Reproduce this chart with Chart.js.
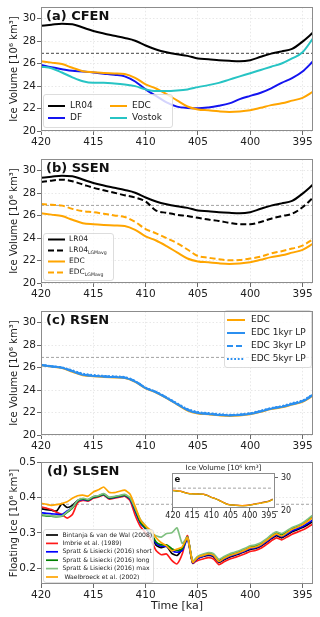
<!DOCTYPE html>
<html><head><meta charset="utf-8">
<script src="https://cdn.jsdelivr.net/npm/chart.js@4/dist/chart.umd.min.js"></script>
<style>
html,body{margin:0;padding:0;background:#fff;width:320px;height:617px;overflow:hidden;position:relative;}
canvas{position:absolute;}
</style></head><body>
<canvas id="ca" width="320" height="150" style="left:0;top:0;width:320px;height:150px"></canvas>
<canvas id="cb" width="320" height="150" style="left:0;top:152px;width:320px;height:150px"></canvas>
<canvas id="cc" width="320" height="150" style="left:0;top:304px;width:320px;height:150px"></canvas>
<canvas id="cd" width="320" height="162" style="left:0;top:455px;width:320px;height:162px"></canvas>
<canvas id="ce" width="170" height="80" style="left:150px;top:455px;width:170px;height:80px"></canvas>
<script>
const FONT = "'DejaVu Sans', sans-serif";

// ---------- data ----------
const timeKa = [420,419,418,417,416,415,414,413,412,411,410,409,408,407,406,405,404,403,402,401,400,399,398,397,396,395,394];
const xTicks = [420,415,410,405,400,395];
const iceTicks = [20,22,24,26,28,30];
const floatTicks = [0.2,0.3,0.4,0.5];
const insetYTicks = [20,30];
const refIce = 26.9;
const refFloat = 0.381;

const lr04   = [29.35,29.45,29.54,29.50,29.20,28.90,28.67,28.47,28.27,28.03,27.60,27.25,27.00,26.82,26.68,26.45,26.39,26.30,26.24,26.20,26.30,26.60,26.88,27.08,27.30,27.95,28.75];
const df     = [25.87,25.66,25.50,25.35,25.30,25.20,25.10,25.00,24.86,24.40,23.70,23.12,22.54,22.17,22.05,22.02,22.10,22.25,22.46,22.83,23.12,23.40,23.79,24.28,24.70,25.29,26.20];
const edc    = [26.20,26.08,25.95,25.62,25.32,25.22,25.16,25.12,25.06,24.72,24.15,23.78,23.28,22.72,22.18,21.92,21.84,21.75,21.70,21.74,21.84,22.06,22.30,22.46,22.70,22.95,23.50];
const vostok = [25.72,25.58,25.20,24.77,24.42,24.28,24.28,24.22,24.13,23.99,23.70,23.55,23.55,23.60,23.70,23.90,24.08,24.28,24.57,24.86,25.14,25.43,25.72,26.00,26.45,27.00,28.24];

const lr04LGM = [28.99,29.10,29.19,29.05,28.76,28.47,28.24,28.03,27.80,27.60,27.25,26.44,26.24,26.07,25.95,25.80,25.64,25.52,25.35,25.23,25.23,25.43,25.72,25.95,26.16,26.73,27.60];
const edcLGM  = [27.02,26.95,26.88,26.59,26.39,26.30,26.16,26.01,25.87,25.43,24.80,24.42,23.99,23.55,22.98,22.40,22.25,22.11,22.02,22.05,22.17,22.34,22.63,22.83,23.06,23.32,23.90];

const edcLP1 = [26.22,26.10,25.97,25.66,25.36,25.25,25.19,25.15,25.09,24.75,24.17,23.80,23.30,22.75,22.22,21.96,21.87,21.78,21.73,21.77,21.88,22.09,22.33,22.50,22.74,22.99,23.55];
const edcLP3 = [26.23,26.11,25.99,25.70,25.40,25.28,25.22,25.17,25.12,24.78,24.19,23.82,23.32,22.78,22.26,21.99,21.90,21.81,21.76,21.80,21.91,22.12,22.36,22.53,22.78,23.03,23.58];
const edcLP5 = [26.24,26.12,26.01,25.74,25.46,25.33,25.26,25.21,25.15,24.80,24.21,23.84,23.35,22.82,22.32,22.04,21.95,21.86,21.80,21.84,21.95,22.16,22.40,22.57,22.83,23.08,23.62];

const timeD = [420,419.5,419,418.5,418,417.5,417,416.5,416,415.5,415,414.5,414,413.5,413,412.5,412,411.5,411,410.5,410,409.5,409,408.5,408,407.5,407,406.5,406,405.5,405,404.5,404,403.5,403,402.5,402,401.5,401,400.5,400,399.5,399,398.5,398,397.5,397,396.5,396,395.5,395,394.5,394];
const bintanja = [0.368,0.366,0.364,0.362,0.383,0.372,0.378,0.392,0.396,0.393,
 0.402,0.405,0.410,0.400,0.402,0.404,0.407,0.398,0.365,0.330,
 0.312,0.298,0.265,0.258,0.262,0.242,0.236,0.255,0.288,0.214,
 0.228,0.233,0.236,0.232,0.216,0.224,0.231,0.236,0.241,0.247,
 0.253,0.256,0.262,0.272,0.283,0.292,0.286,0.294,0.303,0.309,
 0.315,0.323,0.332];
const imbrie = [0.374,0.370,0.366,0.358,0.352,0.342,0.352,0.385,0.392,0.390,
 0.398,0.402,0.407,0.396,0.398,0.401,0.404,0.392,0.350,0.318,
 0.300,0.280,0.250,0.238,0.240,0.222,0.212,0.240,0.292,0.215,
 0.222,0.226,0.230,0.226,0.210,0.218,0.225,0.230,0.235,0.241,
 0.247,0.250,0.256,0.266,0.277,0.286,0.280,0.288,0.296,0.302,
 0.308,0.316,0.325];
const sprattShort = [0.357,0.355,0.354,0.353,0.352,0.362,0.372,0.390,0.395,0.392,
 0.400,0.404,0.408,0.398,0.400,0.403,0.406,0.396,0.362,0.328,
 0.312,0.296,0.270,0.262,0.262,0.250,0.245,0.250,0.282,0.216,
 0.228,0.234,0.238,0.234,0.218,0.226,0.233,0.238,0.243,0.249,
 0.255,0.258,0.264,0.274,0.285,0.295,0.289,0.297,0.306,0.312,
 0.318,0.327,0.337];
const sprattLong = [0.350,0.348,0.347,0.346,0.347,0.358,0.370,0.390,0.396,0.393,
 0.401,0.404,0.409,0.399,0.401,0.404,0.407,0.398,0.366,0.330,
 0.314,0.300,0.274,0.266,0.266,0.255,0.250,0.255,0.288,0.218,
 0.232,0.237,0.241,0.238,0.222,0.230,0.237,0.242,0.247,0.253,
 0.260,0.263,0.269,0.279,0.291,0.300,0.295,0.303,0.312,0.318,
 0.325,0.336,0.348];
const sprattMax = [0.352,0.350,0.348,0.347,0.348,0.360,0.372,0.392,0.398,0.395,
 0.403,0.406,0.411,0.401,0.403,0.406,0.409,0.400,0.370,0.338,
 0.320,0.300,0.292,0.288,0.298,0.300,0.314,0.270,0.288,0.220,
 0.234,0.240,0.244,0.241,0.225,0.233,0.240,0.245,0.250,0.256,
 0.263,0.266,0.272,0.282,0.294,0.303,0.298,0.306,0.315,0.321,
 0.328,0.339,0.351];
const waelbroeck = [0.384,0.381,0.378,0.380,0.383,0.388,0.398,0.405,0.407,0.404,
 0.416,0.422,0.430,0.415,0.414,0.418,0.421,0.410,0.375,0.337,
 0.319,0.307,0.286,0.272,0.263,0.249,0.254,0.260,0.286,0.217,
 0.231,0.236,0.240,0.236,0.219,0.228,0.235,0.240,0.245,0.251,
 0.258,0.260,0.266,0.277,0.288,0.297,0.291,0.300,0.310,0.316,
 0.323,0.333,0.344];

const insetGreen = [26.15,26.05,25.93,25.60,25.30,25.20,25.14,25.10,25.04,24.70,24.12,23.76,23.26,22.70,22.16,21.90,21.82,21.74,21.69,21.73,21.83,22.05,22.30,22.47,22.72,22.98,23.55];
const insetRed   = [26.25,26.12,25.98,25.66,25.35,25.25,25.19,25.15,25.09,24.76,24.19,23.82,23.32,22.76,22.22,21.95,21.87,21.78,21.73,21.78,21.89,22.12,22.38,22.55,22.80,23.05,23.65];

// ---------- helpers ----------
function pts(xs, ys){ return xs.map((x,i)=>({x:x, y:ys[i]})); }
function line(label, xs, ys, color, width, dash, order, extra){
  return Object.assign({label:label, data:pts(xs,ys), borderColor:color, backgroundColor:color,
    borderWidth:width, borderDash:dash||[], pointRadius:0, fill:false, tension:0,
    cubicInterpolationMode:'monotone', order:order||0}, extra||{});
}
function refLine(xs, v, color, width){
  return {label:'', skip:true, data:[{x:xs[0],y:v},{x:xs[xs.length-1],y:v}], borderColor:color,
    borderWidth:width, borderDash:[3,2], pointRadius:0, fill:false, order:20};
}
function xScale(o){
  return {type:'linear', reverse:true, min:o.min, max:o.max,
    afterBuildTicks: s => { s.ticks = o.ticks.map(v=>({value:v})); },
    afterFit: s => { s.height = o.h; },
    grid:{drawOnChartArea:o.grid!==false, color:'#e2e2e2', lineWidth:0.8, tickColor:'#444', tickLength:o.tl||4, tickWidth:0.8},
    border:{display:false, dash:[1.5,2]},
    ticks:{font:{family:FONT,size:o.fs||10.5}, color:'#222', padding:o.pad!=null?o.pad:1, maxRotation:0, autoSkip:false, callback:v=>String(v)},
    title: o.title ? {display:true, text:o.title, font:{family:FONT,size:11}, color:'#222', padding:{top:0,bottom:4.4}} : {display:false}
  };
}
function yScale(o){
  return {type:'linear', min:o.min, max:o.max, position:o.pos||'left',
    afterBuildTicks: s => { s.ticks = o.ticks.map(v=>({value:v})); },
    afterFit: s => { s.width = o.w; },
    grid:{drawOnChartArea:o.grid!==false, color:'#e2e2e2', lineWidth:0.8, tickColor:'#444', tickLength:o.tl||4, tickWidth:0.8},
    border:{display:false, dash:[1.5,2]},
    ticks:{font:{family:FONT,size:o.fs||10.5}, color:'#222', padding:o.pad!=null?o.pad:1, callback:o.cb||(v=>String(v))},
    title: o.title ? {display:true, text:o.title, font:{family:FONT,size:10}, color:'#222', padding:{top:8,bottom:0}} : {display:false}
  };
}
function rr(c, x, y, w, h, r){
  c.beginPath(); c.moveTo(x+r,y); c.lineTo(x+w-r,y); c.arcTo(x+w,y,x+w,y+r,r);
  c.lineTo(x+w,y+h-r); c.arcTo(x+w,y+h,x+w-r,y+h,r); c.lineTo(x+r,y+h);
  c.arcTo(x,y+h,x,y+h-r,r); c.lineTo(x,y+r); c.arcTo(x,y,x+r,y,r); c.closePath();
}
function drawLegend(chart, L){
  const c = chart.ctx; c.save();
  rr(c, L.box[0]+0.5, L.box[1]+0.5, L.box[2], L.box[3], 2.5);
  c.globalAlpha = 0.82; c.fillStyle = '#fff'; c.fill();
  c.globalAlpha = 1; c.strokeStyle = '#d4d4d4'; c.lineWidth = 0.8; c.stroke();
  L.items.forEach(it => {
    const ds = chart.data.datasets[it.ds];
    c.strokeStyle = ds.borderColor; c.lineWidth = ds.borderWidth; c.setLineDash(ds.borderDash||[]);
    c.beginPath(); c.moveTo(it.x, it.y); c.lineTo(it.x + L.lineLen, it.y); c.stroke();
    c.setLineDash([]);
    c.fillStyle = '#222'; c.font = L.size + 'px ' + FONT; c.textBaseline = 'middle'; c.textAlign = 'left';
    const tx = it.x + L.lineLen + L.gap;
    c.fillText(ds.label, tx, it.y);
    if (ds.sub){
      const w = c.measureText(ds.label).width;
      c.font = (L.size*0.62) + 'px ' + FONT;
      c.fillText(ds.sub, tx + w, it.y + L.size*0.32);
    }
  });
  c.restore();
}
const deco = {
  id:'deco',
  beforeDraw(chart, args, o){
    if (o.bg){ const a = chart.chartArea, c = chart.ctx; c.save(); c.fillStyle = o.bg;
      c.fillRect(a.left, a.top, a.right-a.left, a.bottom-a.top); c.restore(); }
  },
  afterDatasetsDraw(chart, args, o){ if (o.legend) drawLegend(chart, o.legend); },
  afterDraw(chart, args, o){
    const c = chart.ctx, a = chart.chartArea; c.save();
    c.strokeStyle = '#8c8c8c'; c.lineWidth = 1; c.setLineDash([]);
    c.strokeRect(Math.round(a.left)+0.5, Math.round(a.top)+0.5, Math.round(a.right-a.left)-1, Math.round(a.bottom-a.top)-1);
    (o.texts||[]).forEach(t => {
      c.font = t.font; c.fillStyle = t.color||'#111'; c.textAlign = t.align||'left'; c.textBaseline = 'alphabetic';
      const x = t.x === 'center' ? (a.left+a.right)/2 : a.left + t.x;
      c.fillText(t.text, x, a.top + t.y);
    });
    c.restore();
  }
};
Chart.register(deco);

function make(id, datasets, opts){
  return new Chart(document.getElementById(id), {
    type:'line',
    data:{datasets:datasets},
    options:{responsive:false, animation:false, devicePixelRatio:1,
      layout:{padding:opts.padding},
      plugins:{legend:{display:false}, tooltip:{enabled:false}, deco:opts.deco},
      scales:{x:opts.x, y:opts.y}}
  });
}
const BOLD13 = 'bold 13px ' + FONT;
const SPIKY = {cubicInterpolationMode:'default', tension:0.2};

// ---------- (a) CFEN ----------
make('ca', [
  line('LR04', timeKa, lr04, '#000000', 2, [], 0),
  line('DF', timeKa, df, '#1414f0', 2, [], -1),
  line('EDC', timeKa, edc, '#ffa500', 2, [], -2),
  line('Vostok', timeKa, vostok, '#27c4c4', 2, [], -3),
  refLine(timeKa, refIce, '#6a6a6a', 1.2)
], {
  padding:{top:5,right:7,left:0,bottom:0},
  x: xScale({min:394,max:420,ticks:xTicks,h:19}),
  y: yScale({min:20,max:31,ticks:iceTicks,w:41,title:'Ice Volume [10⁶ km³]'}),
  deco:{texts:[{text:'(a) CFEN', font:BOLD13, x:5, y:12.5}],
    legend:{box:[43,94,129,33], size:9, lineLen:17, gap:5,
      items:[{ds:0,x:48,y:106},{ds:1,x:48,y:118},{ds:2,x:110,y:106},{ds:3,x:110,y:118}]}}
});

// ---------- (b) SSEN ----------
make('cb', [
  line('LR04', timeKa, lr04, '#000000', 2, [], 0),
  line('LR04', timeKa, lr04LGM, '#000000', 2, [6,3], -1, {sub:'LGMavg'}),
  line('EDC', timeKa, edc, '#ffa500', 2, [], -2),
  line('EDC', timeKa, edcLGM, '#ffa500', 2, [6,3], -3, {sub:'LGMavg'}),
  refLine(timeKa, refIce, '#9a9a9a', 0.9)
], {
  padding:{top:5,right:7,left:0,bottom:0},
  x: xScale({min:394,max:420,ticks:xTicks,h:19}),
  y: yScale({min:20,max:31,ticks:iceTicks,w:41,title:'Ice Volume [10⁶ km³]'}),
  deco:{texts:[{text:'(b) SSEN', font:BOLD13, x:5, y:12.5}],
    legend:{box:[43,81,70,47], size:7.5, lineLen:17, gap:4,
      items:[{ds:0,x:48,y:87.5},{ds:1,x:48,y:98.5},{ds:2,x:48,y:109.5},{ds:3,x:48,y:120.5}]}}
});

// ---------- (c) RSEN ----------
make('cc', [
  line('EDC', timeKa, edc, '#ffa500', 2, [], 0),
  line('EDC 1kyr LP', timeKa, edcLP1, '#2b8ff0', 2, [], -1),
  line('EDC 3kyr LP', timeKa, edcLP3, '#2b8ff0', 2, [6,3], -2),
  line('EDC 5kyr LP', timeKa, edcLP5, '#2b8ff0', 2, [1.8,1.8], -3),
  refLine(timeKa, refIce, '#9a9a9a', 0.9)
], {
  padding:{top:5,right:7,left:0,bottom:0},
  x: xScale({min:394,max:420,ticks:xTicks,h:19}),
  y: yScale({min:20,max:31,ticks:iceTicks,w:41,title:'Ice Volume [10⁶ km³]'}),
  deco:{texts:[{text:'(c) RSEN', font:BOLD13, x:5, y:12.5}],
    legend:{box:[224,6,87,57], size:9, lineLen:18, gap:6,
      items:[{ds:0,x:227,y:16},{ds:1,x:227,y:29},{ds:2,x:227,y:42},{ds:3,x:227,y:55}]}}
});

// ---------- (d) SLSEN ----------
make('cd', [
  line('Bintanja & van de Wal (2008)', timeD, bintanja, '#000000', 1.7, [], 0, SPIKY),
  line('Imbrie et al. (1989)', timeD, imbrie, '#ff1a1a', 1.7, [], -1, SPIKY),
  line('Spratt & Lisiecki (2016) short', timeD, sprattShort, '#0000ff', 1.7, [], -2, SPIKY),
  line('Spratt & Lisiecki (2016) long', timeD, sprattLong, '#008000', 1.7, [], -3, SPIKY),
  line('Spratt & Lisiecki (2016) max', timeD, sprattMax, '#80c080', 1.7, [], -4, SPIKY),
  line(' Waelbroeck et al. (2002)', timeD, waelbroeck, '#ffa500', 1.7, [], -5, SPIKY),
  refLine(timeD, refFloat, '#9a9a9a', 0.9)
], {
  padding:{top:5,right:7,left:0,bottom:0},
  x: xScale({min:394,max:420,ticks:xTicks,h:33,title:'Time [ka]'}),
  y: yScale({min:0.155,max:0.5,ticks:floatTicks,w:41,title:'Floating Ice [10⁶ km³]',cb:v=>v.toFixed(1)}),
  deco:{texts:[{text:'(d) SLSEN', font:BOLD13, x:6, y:12.5}],
    legend:{box:[43,74,110,53], size:6.1, lineLen:12, gap:4.5,
      items:[{ds:0,x:46,y:80},{ds:1,x:46,y:88.4},{ds:2,x:46,y:96.8},{ds:3,x:46,y:105.2},{ds:4,x:46,y:113.6},{ds:5,x:46,y:122}]}}
});

// ---------- (e) inset ----------
make('ce', [
  line('red', timeKa, insetRed, '#ff2a2a', 1.3, [], 0),
  line('green', timeKa, insetGreen, '#2e9a2e', 1.3, [], -1),
  line('orange', timeKa, edc, '#ffa500', 1.3, [], -2),
  refLine(timeKa, refIce, '#9a9a9a', 0.9)
], {
  padding:{top:18,right:0,left:22,bottom:0},
  x: xScale({min:393.4,max:420.26,ticks:xTicks,h:27,grid:false,fs:8,tl:3,pad:0.5}),
  y: yScale({min:21.0,max:31.4,ticks:insetYTicks,w:45,pos:'right',grid:false,fs:8,tl:3,pad:3}),
  deco:{bg:'#ffffff',
    texts:[{text:'e', font:'bold 8.5px '+FONT, x:2.5, y:8.5},
           {text:'Ice Volume [10⁶ km³]', font:'7.2px '+FONT, x:'center', y:-3, align:'center', color:'#222'}]}
});
</script>
</body></html>
